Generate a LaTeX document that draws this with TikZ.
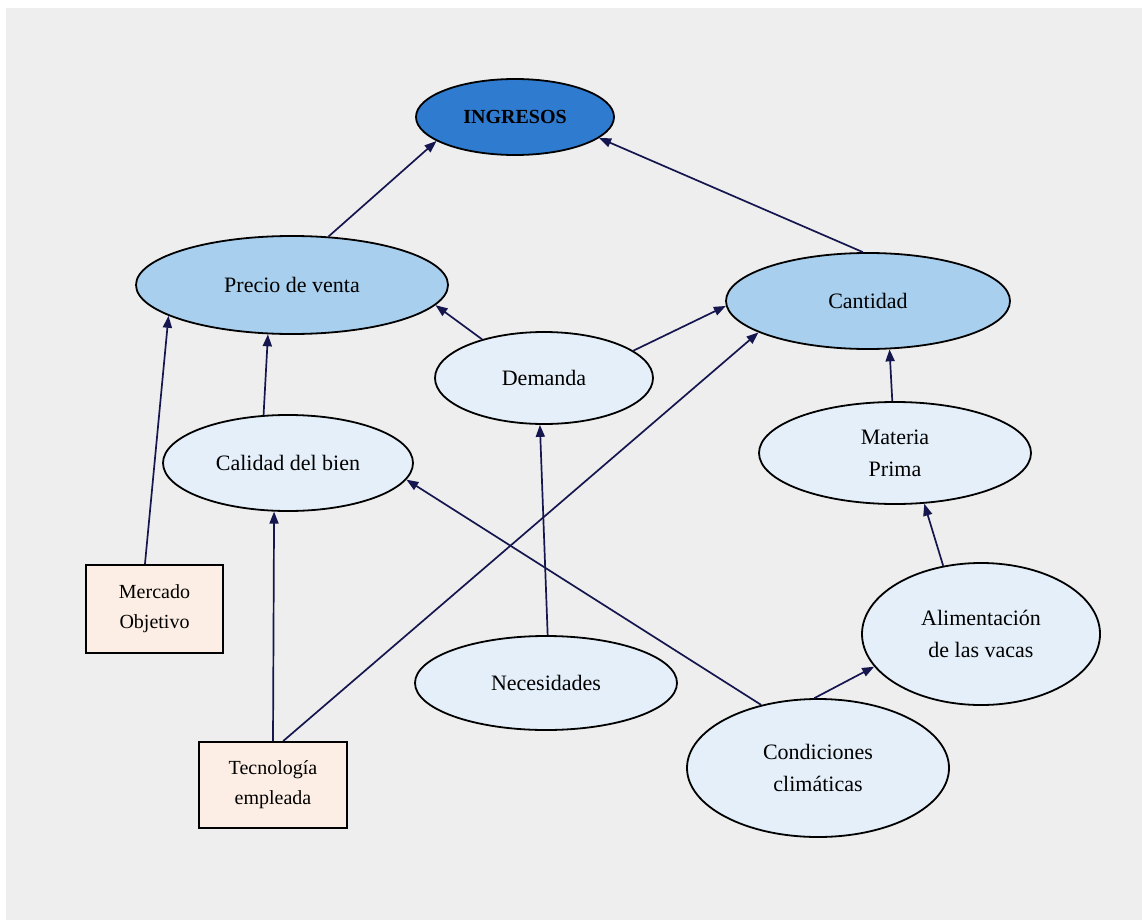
\documentclass[tikz,border=0pt]{standalone}
\usepackage{fontspec}
\setmainfont{Liberation Serif}
\usetikzlibrary{shapes.geometric,arrows.meta}
\definecolor{bgc}{HTML}{EEEEEE}
\definecolor{dark}{HTML}{2E7BD0}
\definecolor{mid}{HTML}{A8D0EE}
\definecolor{pale}{HTML}{E4EFF9}
\definecolor{peach}{HTML}{FCEEE4}
\definecolor{navy}{HTML}{16164F}
\tikzset{
  ell/.style={ellipse,draw=black,line width=1.8pt,inner sep=0pt,align=center,
    font=\fontsize{22}{32}\selectfont},
  ellbig/.style={ell,fill=mid},
  ellpale/.style={ell,fill=pale},
  boxn/.style={rectangle,draw=black,line width=1.8pt,fill=peach,inner sep=0pt,align=center,
    font=\fontsize{20}{30}\selectfont},
  conn/.style={draw=navy,line width=1.7pt,-{Triangle[length=12pt,width=9pt]}}
}
\begin{document}
\begin{tikzpicture}[x=1pt,y=-1pt]
\useasboundingbox (0,0) rectangle (1142,920);
\fill[white] (0,0) rectangle (1142,920);
\fill[bgc] (6,8) rectangle (1142,920);

\node[ell,fill=dark,minimum width=198pt,minimum height=76pt,font=\fontsize{20}{24}\selectfont\bfseries] (ing) at (515,117) {INGRESOS};
\node[ellbig,minimum width=312pt,minimum height=98pt] (prec) at (292,285) {Precio de venta};
\node[ellbig,minimum width=284pt,minimum height=96pt] (cant) at (868,301) {Cantidad};
\node[ellpale,minimum width=218pt,minimum height=92pt] (dem) at (544,378) {Demanda};
\node[ellpale,minimum width=250pt,minimum height=96pt] (cal) at (288,463) {Calidad del bien};
\node[ellpale,minimum width=272pt,minimum height=102pt] (mat) at (895,453) {Materia\\Prima};
\node[ellpale,minimum width=238pt,minimum height=142pt] (ali) at (981,634) {Alimentación\\de las vacas};
\node[ellpale,minimum width=262pt,minimum height=94pt] (nec) at (546,683) {Necesidades};
\node[ellpale,minimum width=262pt,minimum height=138pt] (con) at (818,768) {Condiciones\\climáticas};
\node[boxn,minimum width=137pt,minimum height=88pt] (mer) at (154.5,609) {Mercado\\Objetivo};
\node[boxn,minimum width=148pt,minimum height=86pt] (tec) at (273,785) {Tecnología\\empleada};

\draw[conn] (prec.53) -- (ing.197);
\draw[conn] (cant.96) -- (ing.346);
\draw[conn] (dem.148) -- (prec.352);
\draw[conn] (dem.17) -- (cant.182);
\draw[conn] (cal.117) -- (prec.244);
\draw[conn] (mer.102) -- (prec.194);
\draw[conn] (tec.north) -- (cal.254);
\draw[conn] (tec.77) -- (cant.196);
\draw[conn] (nec.88) -- (dem.265);
\draw[conn] (con.132) -- (cal.352);
\draw[conn] (con.93) -- (ali.197);
\draw[conn] (ali.119) -- (mat.300);
\draw[conn] (mat.93.5) -- (cant.294);
\end{tikzpicture}
\end{document}
